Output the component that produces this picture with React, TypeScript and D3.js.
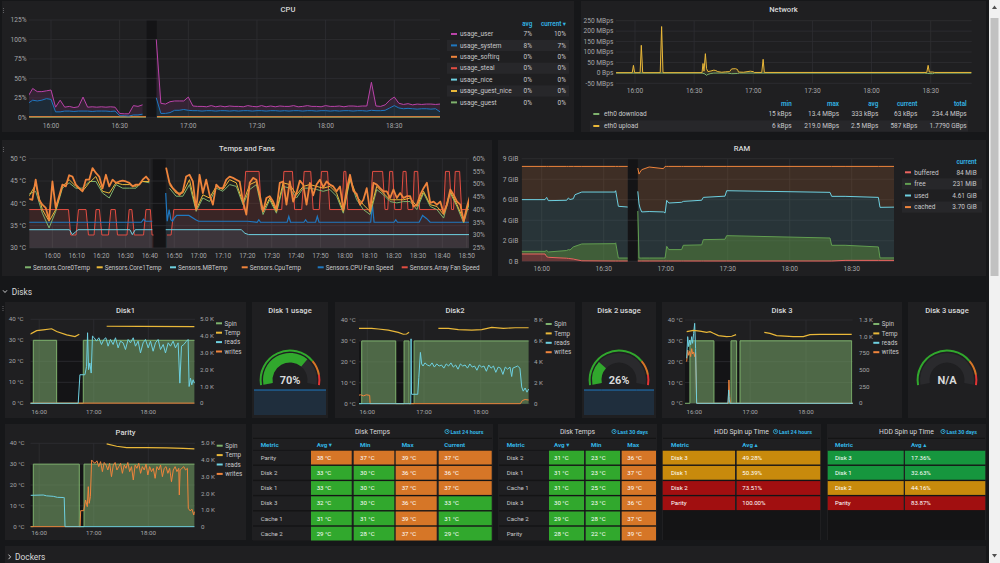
import * as d3 from "d3";

type Pt = [number, number | null];

// ---------- palette ----------
const FONT = "Roboto, 'Open Sans', 'DejaVu Sans', sans-serif";
const PAGE_BG = "#161719";
const PANEL_BG = "#1f1f21";
const NO_DATA = "#141416";
const STRIPE = "#27272a";
const GRID = "#2f2f32";
const AXIS = "#a6a6a8";
const TITLE = "#d8d9da";
const TEXT = "#c8c8ca";
const ACCENT = "#33b5e5";
const SEP = "#141415";

const GREEN = "#7eb26d";
const YELLOW = "#eab839";
const CYAN = "#6ed0e0";
const ORANGE = "#ef843c";
const RED = "#e24d42";
const BLUE = "#1f78c1";
const PURPLE = "#ba43a9";

const T_GREEN = "rgba(50, 172, 45, 0.97)";
const T_ORANGE = "rgba(237, 129, 40, 0.89)";
const T_RED = "rgba(245, 54, 54, 0.9)";
const H_GREEN = "#16963e";
const H_YELLOW = "#c88a0c";
const H_RED = "#a10f10";

// ---------- time ticks (minutes after 15:50) ----------
const halfHourTicks = [10, 40, 70, 100, 130, 160];
const tenMinuteTicks = [10, 20, 30, 40, 50, 60, 70, 80, 90, 100, 110, 120, 130, 140, 150, 160, 170, 180];
const hourTicks = [10, 70, 130];
// collector outage (minutes after 15:50) per panel
const cpuOutage = [51.8, 56.2];
const tempsOutage = [51.2, 56.5];
const ramOutage = [51.8, 56.5];

// ---------- CPU (percent, one sample every 2 min) ----------
const cpuStep = 2;
const cpuSystem = [
  18, 22, 21, 22, 24, 23, 7, 7, 8, 8,
  7.5, 8, 8, 8, 7.5, 8, 8, 8, 7.5, 8,
  2, 2, 1.5, 3, 3, 4, null, null, 25, 5,
  5, 6, 9, 9, 10, 9, 8.5, 8.5, 8, 8.5,
  8.5, 8, 8.5, 8.5, 8, 8.5, 8, 8.5, 8.5, 8,
  8.5, 8.5, 8, 8.5, 8.5, 8, 8.5, 8, 8.5, 8.5,
  8, 8.5, 8.5, 8, 8.5, 8.5, 8, 8.5, 8, 8.5,
  8.5, 8, 8.5, 8.5, 8, 9, 8.5, 8.5, 9, 12,
  15, 12, 11, 11.5, 11, 10.5, 11, 11, 10.5, 11,
  7,
];
const cpuUser = [
  9, 15, 12, 11, 10, 12, 6, 15, 5, 6,
  5, 5.5, 18, 5, 6, 5, 5.5, 5, 6, 5,
  3, 2.5, 3, 12, 11, 12, null, null, 75, 13,
  12, 14, 12, 12, 11, 17, 6, 5.5, 6, 5,
  6.5, 5.5, 6, 5, 6.5, 5.5, 6, 5, 6.5, 6,
  5, 6.5, 5.5, 6, 5, 6.5, 5.5, 6, 6.5, 5,
  6, 6.5, 5.5, 6, 5, 6.5, 6, 5.5, 6.5, 5,
  6, 6.5, 5.5, 6, 6.5, 36, 6, 5.5, 7, 10,
  11, 6, 5.5, 6, 5, 6.5, 5.5, 6, 6.5, 5.5,
  10,
];
const cpuSoftirq: Pt[] = [[0, 0.8], [51.5, 0.8], [53, null], [56.3, 0.9], [120, 0.7], [180.7, 0.8]];
const cpuSmall: Pt[] = [[0, 0.2], [51.5, 0.2], [53, null], [56.3, 0.2], [180.7, 0.2]];
const cpuLegendNames = ["usage_user", "usage_system", "usage_softirq", "usage_steal", "usage_nice", "usage_guest_nice", "usage_guest"];
const cpuLegendColors = [PURPLE, BLUE, ORANGE, RED, CYAN, YELLOW, GREEN];
const cpuLegendAvg = [7, 8, 0, 0, 0, 0, 0];
const cpuLegendCurrent = [10, 7, 0, 0, 0, 0, 0];
const cpuYTicks = [0, 25, 50, 75, 100, 125];

// ---------- Network (MBps, download drawn negative) ----------
const netUpload: Pt[] = [
  [0.4, 1], [8.6, 1], [9.2, 36], [9.8, 1], [12.6, 1], [13.2, 132], [13.9, 1], [22.8, 1], [23.5, 222], [24.2, 1],
  [44, 1], [44.5, 45], [45, 8], [45.7, 92], [46.3, 20], [47, 6], [48.5, 9], [50, 13], [51, 11], [52, 6],
  [54, 3], [56, 5], [58, 6], [59, 19], [61, 20], [62, 16], [62.5, 4], [65, 3], [68.5, 8], [70, 6],
  [70.5, 2], [74.3, 2], [75, 65], [75.6, 2], [158, 2], [158.7, 36], [159.3, 4], [161, 4], [162, 2], [180.7, 2],
];
const netDownload: Pt[] = [
  [0.4, -1], [44, -1], [45.5, -5], [46.2, -12], [47, -7], [48.5, -3], [50, -1], [57, -1], [59, -4], [62, -3],
  [63, -1], [157, -1], [158.5, -3], [161, -4], [162, -1], [180.7, -1],
];
const netYTicks = [-50, 0, 50, 100, 150, 200, 250];
const netLegendNames = ["eth0 download", "eth0 upload"];
const netLegendColors = [GREEN, YELLOW];
const netLegendHeaders = ["min", "max", "avg", "current", "total"];
const netLegendRows = [
  ["15 kBps", "13.4 MBps", "333 kBps", "63 kBps", "234.4 MBps"],
  ["6 kBps", "219.0 MBps", "2.5 MBps", "587 kBps", "1.7790 GBps"],
];

// ---------- Temps and Fans ----------
const cpuTempStart = 0.4;
const cpuTempStep = 1.372;
const cpuTemp = [
  41.0, 40.8, 45.3, 40.8, 39.7, 39.0, 36.3, 44.9, 39.0, 41.6,
  44.2, 43.8, 46.3, 46.0, 44.2, 43.4, 42.7, 45.3, 45.3, 47.9,
  46.8, 46.0, 43.4, 46.4, 43.8, 45.3, 44.6, 44.9, 45.1, 44.9,
  44.6, 43.8, 44.2, 44.2, 45.3, 46.0, 45.1, null, null, null,
  null, 48.0, 44.6, 43.4, 42.7, 41.9, 42.7, 46.0, 46.4, 44.9,
  38.6, 46.4, 42.3, 45.3, 41.9, 39.7, 44.2, 43.4, 43.4, 45.3,
  46.0, 45.7, 45.3, 44.9, 40.4, 37.5,
  44.6, 45.7, 45.3, 41.9, 38.2, 41.2, 41.6, 40.4, 38.6, 44.6,
  44.9, 39.7, 44.9, 40.4, 42.3, 45.1, 44.2, 39.7, 44.6, 41.8,
  44.2, 45.3, 43.6, 44.9, 44.2, 43.8, 42.7, 43.8, 38.6, 43.1,
  46.4, 42.8, 42.1, 39.7, 40.8, 43.4, 38.2, 44.6, 44.2, 43.4,
  42.7, 42.7, 41.2, 43.1, 41.2, 42.3, 41.2, 41.6, 41.6, 39.3,
  39.7, 41.9, 43.4, 44.6, 40.1, 40.4, 39.7, 40.4, 37.8, 39.7,
  43.1, 41.9, 40.4, 39.7, 36.0, 39.3, 41.9,
];
const coreStep = 2.744;
const core0Temp = [
  42.1, 42.7, 37.8, 34.5, 38.2, 43.4, 44.6, 43.4, 43.4, 44.9,
  44.9, 42.3, 41.2, 44.2, 43.4, 43.4, 43.4, 44.9, 44.6, null,
  null, 43.4, 41.6, 41.6, 44.2, 38.2, 41.2, 40.4, 43.4, 42.7,
  44.2, 43.8, 39.7,
  43.1, 44.2, 37.5, 40.8, 37.8, 43.8, 43.4, 41.2, 43.4, 43.4,
  43.1, 42.7, 43.1, 41.6, 37.8, 45.3, 40.8, 38.6, 37.5, 43.1,
  41.9, 40.4, 40.1, 40.4, 40.4, 38.6, 42.3, 39.3, 38.6, 36.7,
  42.3, 39.3, 35.6, 40.8,
];
const core1Temp = [
  41.6, 44.2, 38.6, 36.0, 38.6, 43.8, 45.3, 43.8, 42.7, 44.6,
  46.0, 42.7, 42.3, 44.6, 44.2, 44.2, 43.8, 44.9, 44.9, null,
  null, 44.2, 42.3, 42.3, 45.3, 38.6, 41.9, 41.2, 43.8, 43.1,
  45.3, 44.6, 40.1,
  44.2, 44.9, 38.2, 41.2, 38.2, 44.6, 44.2, 41.9, 43.8, 44.2,
  43.8, 43.4, 43.8, 42.3, 38.2, 45.7, 41.6, 39.7, 38.2, 43.8,
  42.3, 40.8, 40.8, 40.8, 41.2, 39.3, 42.7, 39.7, 39.3, 37.5,
  42.7, 39.7, 36.3, 41.2,
];
const mbTemp: Pt[] = [
  [0.4, 34.1], [17, 34.1], [18.2, 33.0], [19.5, 33.6], [20.5, 34.1], [41.8, 34.1], [42.8, 33.0], [44, 34.1],
  [51, 34.1], [53, null], [56.5, 34.1], [87.5, 34.1], [89, 33.3], [90.5, 33.0], [181.5, 33.0],
];
const cpuFan: Pt[] = [
  [0.4, 35], [46.5, 35], [47.4, 36.2], [48.2, 35.4], [51, 35.4], [53, null], [56.5, 46.5], [57.1, 35.4],
  [57.9, 40], [58.6, 36], [59.3, 35.4], [60, 36.6], [61, 37.7], [66, 37.7], [68.8, 36], [70, 35.4],
  [90, 35.4], [94, 35], [94.7, 36], [95.4, 35], [106.3, 35], [107, 37.3], [107.7, 35], [113.2, 35],
  [113.9, 36], [114.6, 35], [118, 35], [118.7, 37.3], [119.4, 35], [140.6, 35], [141.3, 42], [142, 35],
  [150.2, 35], [150.9, 36], [151.6, 35], [160.5, 35], [161.9, 37.7], [163.5, 36.5], [165, 35], [181.5, 35],
];
const arrayFan: Pt[] = [
  [0.4, 40], [16.6, 40], [17.5, 30], [19.7, 30], [20.7, 40], [23.8, 40], [24.8, 30], [27.1, 30], [27.9, 40],
  [29.3, 40], [30.3, 30], [33.0, 30], [34.0, 40], [35.8, 40], [36.7, 30], [40.6, 30], [41.5, 40], [42.6, 40],
  [43.6, 30], [47.4, 30], [48.4, 40], [50.2, 40], [50.9, 30], [51.5, 30], [53, null], [57.0, 30], [58.7, 30],
  [59.8, 40], [88.3, 40], [89.3, 55], [94.8, 55], [95.7, 40], [104.1, 40], [105.0, 55], [108.5, 55],
  [109.4, 40], [112.3, 40], [113.3, 55], [116.0, 55], [117.0, 40], [119.5, 40], [120.4, 55], [122.9, 55],
  [123.8, 40], [128.8, 40], [129.6, 55], [130.4, 55], [131.2, 40], [140.4, 40], [141.4, 55], [145.5, 55],
  [146.5, 40], [147.6, 40], [148.4, 55], [149.6, 55], [150.5, 40], [153.1, 40], [153.9, 55], [155.1, 55],
  [155.9, 40], [157.9, 40], [158.5, 55], [159.9, 55], [160.7, 40], [170.6, 40], [171.3, 55], [172.9, 55],
  [173.8, 40], [174.6, 40], [175.3, 55], [177.1, 55], [177.9, 40], [181.5, 40],
];
const tempYTicks = [30, 35, 40, 45, 50];
const fanYTicks = [25, 30, 35, 40, 45, 50, 55, 60];
const tempLegendNames = [
  "Sensors.Core0Temp", "Sensors.Core1Temp", "Sensors.MBTemp", "Sensors.CpuTemp", "Sensors.CPU Fan Speed", "Sensors.Array Fan Speed",
];
const tempLegendColors = [GREEN, YELLOW, CYAN, ORANGE, BLUE, RED];

// ---------- RAM (GB = 1e9 bytes, stacked) ----------
const ramTimes = [
  0.3, 11.6, 12.4, 13.2, 22.1, 22.9, 23.7, 25.3, 26.1, 29.4, 45.5, 45.8, 47.1, 51.6, 54, 56.5, 57.1, 57.6,
  58.4, 62, 68.9, 69.7, 70.5, 71.5, 77.7, 78.5, 87.4, 88.2, 98.7, 99.5, 149.5, 150.3, 156.8, 172.9, 173.7, 180.7,
];
const ramBuffered = [
  0.71, 0.71, 0.45, 0.39, 0.30, 0.28, 0.26, 0.22, 0.18, 0.05, 0.03, 0.03, 0.03, 0.03, null, 0.03, 0.03, 0.03,
  0.03, 0.03, 0.03, 0.03, 0.03, 0.03, 0.03, 0.03, 0.03, 0.03, 0.03, 0.03, 0.03, 0.03, 0.09, 0.09, 0.09, 0.09,
];
const ramFree = [
  0.26, 0.26, 0.60, 0.52, 0.75, 0.86, 0.84, 1.18, 1.28, 1.64, 1.69, 1.77, 0.29, 0.29, null, 4.87, 0.29, 0.29,
  0.29, 0.29, 0.29, 0.29, 1.43, 1.11, 1.11, 1.53, 1.57, 2.08, 2.12, 2.47, 2.24, 1.53, 1.47, 1.31, 0.24, 0.24,
];
const ramUsed = [
  5.04, 5.04, 5.18, 5.00, 4.90, 5.03, 4.92, 4.70, 5.03, 5.06, 5.03, 5.08, 5.04, 4.97, null, 1.92, 5.28, 4.87,
  4.49, 4.53, 4.49, 4.39, 4.48, 4.54, 4.61, 4.28, 4.35, 4.12, 4.20, 4.38, 4.45, 4.77, 4.77, 4.83, 4.93, 4.95,
];
const ramCached = [
  3.24, 3.24, 3.02, 3.34, 3.30, 3.08, 3.23, 3.15, 2.76, 2.50, 2.50, 2.37, 3.89, 3.96, null, 2.27, 2.90, 3.51,
  4.12, 4.34, 4.22, 4.54, 3.31, 3.57, 3.50, 3.41, 3.30, 3.02, 2.90, 2.37, 2.53, 2.92, 2.92, 3.02, 3.99, 3.97,
];
const ramYTicksGB = [0, 2, 4, 6, 8, 10];
const ramLegendNames = ["buffered", "free", "used", "cached"];
const ramLegendColors = ["#ea6460", "#629e51", CYAN, ORANGE];
const ramLegendCurrent = ["84 MiB", "231 MiB", "4.61 GiB", "3.70 GiB"];

// ---------- Disks (temp in °C, reads/writes in K or raw ops) ----------
const diskTempTicks = [0, 10, 20, 30, 40];
const diskLegendNames = ["Spin", "Temp", "reads", "writes"];
const diskLegendColors = [GREEN, YELLOW, CYAN, ORANGE];

const disk1Spin: Pt[] = [[0, 0], [3.5, 30], [29.2, 0], [58.5, 30], [180.7, 30]];
const disk1Temp: Pt[] = [
  [0, 32.9], [7.2, 34.6], [14.5, 35.0], [23.7, 35.5], [29.2, 34.2], [40.2, 32.6], [49.4, 31.8], [54.1, 32.9],
  [60, null], [84.2, 36.7], [120, 36.6], [180.7, 36.5],
];
const disk1Reads: Pt[] = [
  [0, 0], [52.9, 0], [54.8, 1.7], [60.3, 1.7], [62.1, 2.2], [63.2, 4.2], [64.3, 2.0], [65.7, 2.4], [67.2, 1.8],
  [68.6, 4.0], [70.5, 3.9], [73, 3.7], [75.6, 3.9], [78.5, 3.5], [81.1, 3.8], [83.3, 3.9], [85.8, 3.4],
  [88.4, 3.8], [91.3, 3.5], [93.9, 3.9], [96.8, 3.3], [99.4, 3.7], [102.3, 3.6], [104.9, 3.2], [107.8, 3.8],
  [110.4, 3.6], [113.4, 3.9], [115.9, 3.4], [118.8, 3.7], [121.4, 3.0], [124.3, 3.6], [126.9, 3.8], [129.9, 3.3],
  [132.4, 3.7], [135.3, 3.1], [137.9, 3.6], [140.8, 3.8], [143.4, 3.2], [146.4, 3.5], [148.9, 3.0], [151.9, 3.6],
  [154.4, 3.4], [157.3, 3.7], [159.9, 3.3], [162.8, 3.6], [164.7, 1.2], [166.5, 3.4], [169.1, 3.5], [172, 3.7],
  [173.8, 3.8], [174.9, 1.0], [176.4, 1.5], [177.8, 1.1], [179.3, 1.4], [180.7, 1.2],
];
const disk1Writes: Pt[] = [[0, 0.01], [180.7, 0.01]];

const disk2Spin: Pt[] = [[0, 0], [4.1, 30], [40.1, 0], [48.9, 30], [54.2, 0], [59.5, 30], [180.7, 30]];
const disk2Temp: Pt[] = [
  [0.5, 36.0], [14.6, 36.0], [21.7, 35.7], [32.2, 35.2], [42.8, 34.1], [48.1, 33.2], [51.6, 33.3], [54.2, 34.1],
  [60, null], [85.2, 36.0], [95.8, 36.0], [106.4, 35.4], [120.5, 35.2], [131.1, 35.4], [141.7, 36.5], [154, 36.0],
  [166.4, 36.3], [180.7, 36.3],
];
const disk2Reads: Pt[] = [
  [0.5, 0], [56, 0], [56.3, 6.2], [56.8, 0.9], [63.4, 0.9], [64.5, 2.5], [66.2, 4.9], [67.5, 3.8], [69, 3.6],
  [71, 3.9], [73.5, 3.7], [76, 3.6], [78.5, 3.9], [81, 3.5], [83.5, 3.8], [86, 3.6], [88.5, 3.7], [91, 3.4],
  [93.5, 3.8], [96, 3.6], [98.5, 3.9], [101, 3.5], [103.5, 3.7], [106, 3.3], [108.5, 3.8], [111, 3.6],
  [113.5, 3.7], [116, 3.4], [118.5, 3.8], [121, 3.5], [123.5, 3.6], [126, 3.2], [128.5, 3.7], [131, 3.5],
  [133.5, 3.6], [136, 3.1], [138.5, 3.7], [141, 3.4], [143.5, 3.6], [146, 3.0], [148.5, 3.5], [151, 3.4],
  [153.5, 2.8], [156, 3.5], [158.5, 3.3], [161, 3.5], [162.8, 2.6], [164, 3.4], [166.5, 3.5], [169, 3.6],
  [171.5, 3.4], [173.4, 1.6], [175, 1.2], [177, 1.5], [179, 1.1], [180.7, 1.4],
];
const disk2Writes: Pt[] = [
  [0.5, 0.8], [3, 0.85], [6, 0.75], [9, 0.85], [12.5, 0.8], [13, 0], [172, 0], [174, 0.3], [177, 0.4], [180.7, 0.35],
];

const disk3Spin: Pt[] = [[0, 0], [5.3, 30], [31.1, 0], [49.4, 30], [55.5, 0], [59.1, 30], [179.1, 0], [180.7, 0]];
const disk3Temp: Pt[] = [
  [1.8, 34.4], [9, 35.0], [16.1, 34.7], [23.3, 34.1], [26.9, 34.4], [30.5, 33.6], [35.9, 32.5], [44.8, 32.0],
  [50.2, 32.2], [54.9, 33.0], [60, null], [85.2, 34.1], [91.3, 33.6], [98.4, 32.5], [116.3, 32.0], [127.1, 32.0],
  [134.2, 33.0], [145, 33.1], [179.1, 33.1],
];
const disk3Reads: Pt[] = [
  [1.8, 675], [2.9, 1000], [4, 850], [5, 950], [6.1, 880], [7.2, 1000], [8.2, 900], [9.3, 1050], [10.4, 1200],
  [11.4, 820], [12.5, 0], [46.1, 0], [46.9, 200], [47.6, 50], [48.3, 0], [180.7, 0],
];
const disk3Writes: Pt[] = [
  [1.8, 625], [2.9, 800], [4, 720], [5, 780], [6.1, 700], [7.2, 820], [8.2, 740], [9.3, 770], [10.4, 700],
  [11.4, 760], [12.5, 0], [46.5, 0], [47.2, 350], [48, 100], [48.7, 0], [180.7, 0],
];

const paritySpin: Pt[] = [[0, 0], [3.5, 30], [54.1, 0], [59.3, 30], [180.7, 30]];
const parityTemp: Pt[] = [
  [84.2, 39.7], [95.2, 38.6], [106.2, 37.9], [128.2, 37.9], [150.2, 37.8], [168.5, 37.6], [180.7, 37.3],
];
const parityReads: Pt[] = [
  [0.4, 1.88], [14.5, 1.9], [18, 1.85], [25.5, 1.82], [30, 1.76], [36.5, 1.75], [37.5, 1.75], [38.4, 0], [180.7, 0],
];
const parityWrites: Pt[] = [
  [0.4, 0], [55, 0], [55.6, 0.96], [59, 0.96], [61, 1.6], [62.9, 1.2], [64, 2.4], [65, 1.4], [66.3, 1.8],
  [67.7, 4.0], [69, 3.9], [71.4, 3.8], [73.5, 3.95], [75.5, 3.6], [77.5, 3.9], [79.5, 3.3], [81.5, 3.85],
  [83.5, 3.7], [85.5, 3.4], [87.5, 3.8], [89.5, 3.0], [91.5, 3.7], [93.5, 3.85], [95.5, 3.4], [97.5, 3.6],
  [99.5, 3.8], [101.5, 3.2], [103.5, 3.7], [105.5, 3.5], [107.5, 3.85], [109.5, 3.3], [111.5, 3.6], [113.5, 2.8],
  [115.5, 3.7], [117.5, 3.5], [119.5, 3.8], [121.5, 3.2], [123.5, 3.6], [125.5, 3.4], [127.5, 3.75], [129.5, 3.1],
  [131.5, 3.6], [133.5, 3.3], [135.5, 3.5], [137.5, 2.9], [139.5, 3.6], [141.5, 3.4], [143.5, 3.7], [145.5, 3.0],
  [147.5, 3.5], [149.5, 3.6], [151.5, 3.2], [153.5, 3.5], [155.5, 2.7], [157.5, 3.4], [159.5, 3.6], [161.5, 3.3],
  [163.5, 3.5], [164.1, 1.9], [165, 3.4], [167, 3.5], [169, 3.6], [171, 3.4], [173, 3.5], [174, 1.1], [176, 0.95],
  [178, 1.05], [180, 0.7], [180.7, 0.9],
];

// ---------- disk usage gauges ----------
const gaugeThresholds = [75, 90];
const disk1Usage = 70;
const disk2Usage = 26;
const disk3Usage: number | null = null;
const disk1UsageHistory = [70, 70, 70, 70, 70];
const disk2UsageHistory = [26, 26, 26, 26, 26];

// ---------- tables ----------
const tempTableThreshold = 35;
const temps24Metrics = ["Parity", "Disk 2", "Disk 1", "Disk 3", "Cache 1", "Cache 2"];
const temps24Avg = [38, 33, 33, 32, 31, 29];
const temps24Min = [37, 30, 30, 30, 31, 28];
const temps24Max = [39, 36, 37, 36, 39, 37];
const temps24Current = [37, 36, 37, 33, 31, 29];

const temps30Metrics = ["Disk 2", "Disk 1", "Cache 1", "Disk 3", "Cache 2", "Parity"];
const temps30Avg = [31, 31, 31, 30, 29, 28];
const temps30Min = [23, 23, 25, 23, 28, 22];
const temps30Max = [36, 37, 39, 36, 37, 39];

const spinThresholds = [40, 70];
const spin24Metrics = ["Disk 3", "Disk 1", "Disk 2", "Parity"];
const spin24Avg = [49.28, 50.39, 73.51, 100.0];
const spin30Metrics = ["Disk 3", "Disk 1", "Disk 2", "Parity"];
const spin30Avg = [17.36, 32.63, 44.16, 83.87];

// ---------- helpers ----------
const clock = (m: number) => {
  const total = Math.round(15 * 60 + 50 + m);
  const mm = total % 60;
  return `${Math.floor(total / 60)}:${mm < 10 ? "0" : ""}${mm}`;
};
const sampled = (start: number, step: number, vals: (number | null)[]): Pt[] =>
  vals.map((v, i) => [start + i * step, v] as Pt);

const linePath = (pts: Pt[], x: any, y: any, curve: any = d3.curveLinear) =>
  d3
    .line<Pt>()
    .defined((d) => d[1] != null)
    .x((d) => x(d[0]))
    .y((d) => y(d[1] as number))
    .curve(curve)(pts) || "";

const areaPath = (pts: Pt[], x: any, y: any, base: number, curve: any = d3.curveLinear) =>
  d3
    .area<Pt>()
    .defined((d) => d[1] != null)
    .x((d) => x(d[0]))
    .y0(y(base))
    .y1((d) => y(d[1] as number))
    .curve(curve)(pts) || "";

// cumulative layers; null breaks every layer at that sample
function stackUp(layers: (number | null)[][]) {
  const n = layers[0].length;
  const base = new Array(n).fill(0);
  return layers.map((layer) =>
    layer.map((v, i) => {
      if (v == null) return [NaN, NaN] as [number, number];
      const y0 = base[i];
      base[i] = y0 + v;
      return [y0, base[i]] as [number, number];
    })
  );
}

const bandArea = (times: number[], band: [number, number][], x: any, y: any) =>
  d3
    .area<number>()
    .defined((_, i) => !isNaN(band[i][1]))
    .x((t) => x(t))
    .y0((_, i) => y(band[i][0]))
    .y1((_, i) => y(band[i][1]))(times) || "";

const bandLine = (times: number[], band: [number, number][], x: any, y: any) =>
  d3
    .line<number>()
    .defined((_, i) => !isNaN(band[i][1]))
    .x((t) => x(t))
    .y((_, i) => y(band[i][1]))(times) || "";

function PanelBox({ x, y, w, h, title }: { x: number; y: number; w: number; h: number; title?: string }) {
  return (
    <g>
      <rect x={x} y={y} width={w} height={h} fill={PANEL_BG} />
      {title && (
        <text x={x + w / 2} y={y + 8.6} dy="0.35em" textAnchor="middle" fill={TITLE} fontSize={7.6} fontWeight={500}>
          {title}
        </text>
      )}
    </g>
  );
}

function DragHandle({ x, y }: { x: number; y: number }) {
  return (
    <g fill="#6b6b6e">
      {[0, 2, 4].map((d) => (
        <circle key={d} cx={x} cy={y + d} r={0.6} />
      ))}
    </g>
  );
}

function Grid(p: {
  x: any;
  yl: any;
  yTicks: number[];
  yFmt: (v: number) => string;
  yr?: any;
  yrTicks?: number[];
  yrFmt?: (v: number) => string;
  xTicks: number[];
  box: [number, number, number, number];
  leftX: number;
  rightX?: number;
  labelY: number;
  fs?: number;
}) {
  const fs = p.fs ?? 6.6;
  return (
    <g>
      {p.yTicks.map((v) => (
        <g key={"y" + v}>
          <line x1={p.box[0]} x2={p.box[1]} y1={p.yl(v)} y2={p.yl(v)} stroke={GRID} strokeWidth={0.8} />
          <text x={p.leftX} y={p.yl(v)} dy="0.35em" textAnchor="end" fill={AXIS} fontSize={fs}>
            {p.yFmt(v)}
          </text>
        </g>
      ))}
      {p.yr &&
        (p.yrTicks || []).map((v) => (
          <text key={"r" + v} x={p.rightX} y={p.yr(v)} dy="0.35em" fill={AXIS} fontSize={fs}>
            {p.yrFmt ? p.yrFmt(v) : v}
          </text>
        ))}
      {p.xTicks.map((t) => (
        <g key={"x" + t}>
          <line x1={p.x(t)} x2={p.x(t)} y1={p.box[2]} y2={p.box[3]} stroke={GRID} strokeWidth={0.8} />
          <text x={p.x(t)} y={p.labelY} dy="0.35em" textAnchor="middle" fill={AXIS} fontSize={fs}>
            {clock(t)}
          </text>
        </g>
      ))}
    </g>
  );
}

function ClipBox({ id, box }: { id: string; box: [number, number, number, number] }) {
  return (
    <clipPath id={id}>
      <rect x={box[0]} y={box[2] - 1} width={box[1] - box[0]} height={box[3] - box[2] + 2} />
    </clipPath>
  );
}

function Outage({ x, win, box }: { x: any; win: number[]; box: [number, number, number, number] }) {
  return <rect x={x(win[0])} y={box[2]} width={x(win[1]) - x(win[0])} height={box[3] - box[2]} fill={NO_DATA} />;
}

// ---------- panels ----------
function CpuPanel() {
  const x = d3.scaleLinear().domain([10, 160]).range([51, 394.3]);
  const y = d3.scaleLinear().domain([0, 125]).range([117.3, 20]);
  const box: [number, number, number, number] = [29, 440, 20, 117.3];
  const times = cpuSystem.map((_, i) => i * cpuStep);
  const [sysBand, userBand] = stackUp([cpuSystem, cpuUser]);
  const rowY = (i: number) => 34 + i * 11.4;
  return (
    <g>
      <PanelBox x={2} y={1} w={572} h={131} title="CPU" />
      <DragHandle x={3.5} y={8.5} />
      <ClipBox id="clip-cpu" box={box} />
      <Outage x={x} win={cpuOutage} box={box} />
      <Grid x={x} yl={y} yTicks={cpuYTicks} yFmt={(v) => `${v}%`} xTicks={halfHourTicks} box={box} leftX={26.5} labelY={125.7} />
      <g clipPath="url(#clip-cpu)">
        <path d={bandArea(times, sysBand, x, y)} fill={BLUE} fillOpacity={0.14} />
        <path d={bandArea(times, userBand, x, y)} fill={PURPLE} fillOpacity={0.14} />
        <path d={linePath(cpuSmall, x, y)} fill="none" stroke={GREEN} strokeWidth={1} />
        <path d={linePath(cpuSoftirq, x, y)} fill="none" stroke={ORANGE} strokeWidth={1} />
        <path d={bandLine(times, sysBand, x, y)} fill="none" stroke={BLUE} strokeWidth={1} />
        <path d={bandLine(times, userBand, x, y)} fill="none" stroke={PURPLE} strokeWidth={1} />
      </g>
      <text x={532.3} y={24} dy="0.35em" textAnchor="end" fill={ACCENT} fontSize={6.3} fontWeight={600}>avg</text>
      <text x={566} y={24} dy="0.35em" textAnchor="end" fill={ACCENT} fontSize={6.3} fontWeight={600}>current ▾</text>
      {cpuLegendNames.map((n, i) => (
        <g key={n}>
          {i % 2 === 1 && <rect x={447} y={rowY(i) - 5.6} width={122} height={11.2} fill={STRIPE} />}
          <rect x={451} y={rowY(i) - 1} width={6} height={2} fill={cpuLegendColors[i]} />
          <text x={460} y={rowY(i)} dy="0.35em" fill={TEXT} fontSize={6.5}>{n}</text>
          <text x={532} y={rowY(i)} dy="0.35em" textAnchor="end" fill={TEXT} fontSize={6.5}>{cpuLegendAvg[i]}%</text>
          <text x={566} y={rowY(i)} dy="0.35em" textAnchor="end" fill={TEXT} fontSize={6.5}>{cpuLegendCurrent[i]}%</text>
        </g>
      ))}
    </g>
  );
}

function NetworkPanel() {
  const x = d3.scaleLinear().domain([10, 160]).range([635, 930.7]);
  const y = d3.scaleLinear().domain([-50, 250]).range([83.3, 20.7]);
  const box: [number, number, number, number] = [616, 971.7, 20.7, 83.3];
  const colX = [791.7, 839, 878.3, 917.3, 966.7];
  const rowY = [114, 126];
  return (
    <g>
      <PanelBox x={581} y={1} w={405} h={131} title="Network" />
      <ClipBox id="clip-net" box={box} />
      <Grid x={x} yl={y} yTicks={netYTicks} yFmt={(v) => (v === 0 ? "0 Bps" : `${v} MBps`)} xTicks={halfHourTicks} box={box} leftX={613.3} labelY={90.7} />
      <g clipPath="url(#clip-net)">
        <path d={areaPath(netDownload, x, y, 0)} fill={GREEN} fillOpacity={0.12} />
        <path d={areaPath(netUpload, x, y, 0)} fill={YELLOW} fillOpacity={0.12} />
        <path d={linePath(netDownload, x, y)} fill="none" stroke={GREEN} strokeWidth={1} />
        <path d={linePath(netUpload, x, y)} fill="none" stroke={YELLOW} strokeWidth={1} />
      </g>
      {netLegendHeaders.map((h, j) => (
        <text key={h} x={colX[j]} y={103.3} dy="0.35em" textAnchor="end" fill={ACCENT} fontSize={6.3} fontWeight={600}>{h}</text>
      ))}
      {netLegendNames.map((n, i) => (
        <g key={n}>
          {i % 2 === 1 && <rect x={590} y={rowY[i] - 5.6} width={378} height={11.2} fill={STRIPE} />}
          <rect x={593.3} y={rowY[i] - 1} width={6} height={2} fill={netLegendColors[i]} />
          <text x={604} y={rowY[i]} dy="0.35em" fill={TEXT} fontSize={6.5}>{n}</text>
          {netLegendRows[i].map((v, j) => (
            <text key={j} x={colX[j]} y={rowY[i]} dy="0.35em" textAnchor="end" fill={TEXT} fontSize={6.5}>{v}</text>
          ))}
        </g>
      ))}
    </g>
  );
}

function TempsPanel() {
  const x = d3.scaleLinear().domain([10, 180]).range([52.4, 466.7]);
  const yl = d3.scaleLinear().domain([30, 50]).range([248, 158.7]);
  const yr = d3.scaleLinear().domain([25, 60]).range([247.7, 158.7]);
  const box: [number, number, number, number] = [29.3, 469, 158.7, 248];
  const cpuPts = sampled(cpuTempStart, cpuTempStep, cpuTemp);
  const core0Pts = sampled(cpuTempStart, coreStep, core0Temp);
  const core1Pts = sampled(cpuTempStart, coreStep, core1Temp);
  const legendSwatch = [25, 96.7, 170, 241.7, 317.7, 401.7];
  return (
    <g>
      <PanelBox x={2} y={140} w={490} h={136} title="Temps and Fans" />
      <DragHandle x={3.5} y={147.5} />
      <ClipBox id="clip-temps" box={box} />
      <Outage x={x} win={tempsOutage} box={box} />
      <Grid
        x={x}
        yl={yl}
        yTicks={tempYTicks}
        yFmt={(v) => `${v} °C`}
        yr={yr}
        yrTicks={fanYTicks}
        yrFmt={(v) => `${v}%`}
        xTicks={tenMinuteTicks}
        box={box}
        leftX={26}
        rightX={472.7}
        labelY={255.3}
      />
      <g clipPath="url(#clip-temps)">
        <path d={areaPath(arrayFan, x, yr, 25)} fill={RED} fillOpacity={0.14} />
        <path d={areaPath(cpuFan, x, yr, 25)} fill={BLUE} fillOpacity={0.06} />
        <path d={areaPath(mbTemp, x, yl, 30)} fill={CYAN} fillOpacity={0.08} />
        <path d={linePath(arrayFan, x, yr)} fill="none" stroke={RED} strokeWidth={1} />
        <path d={linePath(mbTemp, x, yl)} fill="none" stroke={CYAN} strokeWidth={1} />
        <path d={linePath(cpuFan, x, yr)} fill="none" stroke={BLUE} strokeWidth={1.2} />
        <path d={linePath(core0Pts, x, yl)} fill="none" stroke={GREEN} strokeWidth={1} />
        <path d={linePath(core1Pts, x, yl)} fill="none" stroke={YELLOW} strokeWidth={1} />
        <path d={linePath(cpuPts, x, yl)} fill="none" stroke={ORANGE} strokeWidth={1.8} strokeLinejoin="round" />
      </g>
      {tempLegendNames.map((n, i) => (
        <g key={n}>
          <rect x={legendSwatch[i]} y={266.3} width={6} height={2} fill={tempLegendColors[i]} />
          <text x={legendSwatch[i] + 8} y={267.3} dy="0.35em" fill={TEXT} fontSize={6.3}>{n}</text>
        </g>
      ))}
    </g>
  );
}

function RamPanel() {
  const x = d3.scaleLinear().domain([10, 160]).range([541.7, 851.7]);
  const y = d3.scaleLinear().domain([0, 10]).range([261.3, 158.7]);
  const box: [number, number, number, number] = [521.7, 894, 158.7, 261.3];
  const bands = stackUp([ramBuffered, ramFree, ramUsed, ramCached]);
  const fills = [0.35, 0.5, 0.12, 0.15];
  const gib = (gb: number) => (gb === 0 ? "0 B" : `${Math.round((gb * 1e9) / 1073741824)} GiB`);
  const rowY = (i: number) => 172.3 + i * 11.6;
  return (
    <g>
      <PanelBox x={498} y={140} w={488} h={136} title="RAM" />
      <ClipBox id="clip-ram" box={box} />
      <Outage x={x} win={ramOutage} box={box} />
      <Grid x={x} yl={y} yTicks={ramYTicksGB} yFmt={gib} xTicks={halfHourTicks} box={box} leftX={518.3} labelY={268.7} />
      <g clipPath="url(#clip-ram)">
        {bands.map((b, i) => (
          <path key={"a" + i} d={bandArea(ramTimes, b, x, y)} fill={ramLegendColors[i]} fillOpacity={fills[i]} />
        ))}
        {bands.map((b, i) => (
          <path key={"l" + i} d={bandLine(ramTimes, b, x, y)} fill="none" stroke={ramLegendColors[i]} strokeWidth={1} />
        ))}
      </g>
      <text x={976.7} y={162} dy="0.35em" textAnchor="end" fill={ACCENT} fontSize={6.3} fontWeight={600}>current</text>
      {ramLegendNames.map((n, i) => (
        <g key={n}>
          {i % 2 === 1 && <rect x={902} y={rowY(i) - 5.6} width={80} height={11.2} fill={STRIPE} />}
          <rect x={905} y={rowY(i) - 1} width={6} height={2} fill={ramLegendColors[i]} />
          <text x={914.3} y={rowY(i)} dy="0.35em" fill={TEXT} fontSize={6.5}>{n}</text>
          <text x={976.7} y={rowY(i)} dy="0.35em" textAnchor="end" fill={TEXT} fontSize={6.5}>{ramLegendCurrent[i]}</text>
        </g>
      ))}
    </g>
  );
}

function DiskPanel(p: {
  id: string;
  px: number;
  py: number;
  pw: number;
  title: string;
  xr: [number, number];
  box: [number, number, number, number];
  leftX: number;
  rightX: number;
  labelY: number;
  legendX: number;
  legendY: number;
  rightMax: number;
  rightTicks: number[];
  rightFmt: (v: number) => string;
  spin: Pt[];
  temp: Pt[];
  reads: Pt[];
  writes: Pt[];
}) {
  const x = d3.scaleLinear().domain([10, 130]).range(p.xr);
  const yl = d3.scaleLinear().domain([0, 40]).range([p.box[3], p.box[2]]);
  const yr = d3.scaleLinear().domain([0, p.rightMax]).range([p.box[3], p.box[2]]);
  // spun-down stretches are shaded dark up to the spin level
  const spinLevel = d3.max(p.spin, (d) => d[1] as number) as number;
  const idle: Pt[] = p.spin.map((d) => [d[0], d[1] === 0 ? spinLevel : 0]);
  return (
    <g>
      <PanelBox x={p.px} y={p.py} w={p.pw} h={116} title={p.title} />
      <ClipBox id={p.id} box={p.box} />
      <g clipPath={`url(#${p.id})`}>
        <path d={areaPath(idle, x, yl, 0, d3.curveStepAfter)} fill={NO_DATA} />
      </g>
      <Grid
        x={x}
        yl={yl}
        yTicks={diskTempTicks}
        yFmt={(v) => `${v} °C`}
        yr={yr}
        yrTicks={p.rightTicks}
        yrFmt={p.rightFmt}
        xTicks={hourTicks}
        box={p.box}
        leftX={p.leftX}
        rightX={p.rightX}
        labelY={p.labelY}
        fs={6.2}
      />
      <g clipPath={`url(#${p.id})`}>
        <path d={areaPath(p.spin, x, yl, 0, d3.curveStepAfter)} fill={GREEN} fillOpacity={0.5} />
        <path d={linePath(p.spin, x, yl, d3.curveStepAfter)} fill="none" stroke={GREEN} strokeWidth={1} />
        <path d={linePath(p.writes, x, yr)} fill="none" stroke={ORANGE} strokeWidth={1} />
        <path d={linePath(p.reads, x, yr)} fill="none" stroke={CYAN} strokeWidth={1} />
        <path d={linePath(p.temp, x, yl)} fill="none" stroke={YELLOW} strokeWidth={1.2} />
      </g>
      {diskLegendNames.map((n, i) => (
        <g key={n}>
          <rect x={p.legendX} y={p.legendY + i * 9.4 - 1} width={6} height={2} fill={diskLegendColors[i]} />
          <text x={p.legendX + 8.5} y={p.legendY + i * 9.4} dy="0.35em" fill={TEXT} fontSize={6.3}>{n}</text>
        </g>
      ))}
    </g>
  );
}

function Gauge({ cx, cy, value }: { cx: number; cy: number; value: number | null }) {
  const a0 = (-100 * Math.PI) / 180;
  const a1 = (100 * Math.PI) / 180;
  const ang = d3.scaleLinear().domain([0, 100]).range([a0, a1]);
  const arc = d3.arc<any>();
  const band = (r0: number, r1: number, s: number, e: number) =>
    arc({ innerRadius: r0, outerRadius: r1, startAngle: s, endAngle: e }) || "";
  const stops = [0, ...gaugeThresholds, 100];
  const ringColors = [T_GREEN, T_ORANGE, T_RED];
  return (
    <g transform={`translate(${cx},${cy})`}>
      <path d={band(17.5, 27, a0, a1)} fill="#2a2a2d" />
      {value != null && <path d={band(17.5, 27, a0, ang(value))} fill={T_GREEN} />}
      {ringColors.map((c, i) => (
        <path key={i} d={band(28.4, 30.4, ang(stops[i]), ang(stops[i + 1]))} fill={c} />
      ))}
      <text y={0} dy="0.36em" textAnchor="middle" fill={TITLE} fontSize={11} fontWeight={700}>
        {value != null ? `${value}%` : "N/A"}
      </text>
    </g>
  );
}

function Sparkline({ x0, x1, y0, y1, hist }: { x0: number; x1: number; y0: number; y1: number; hist: number[] }) {
  const x = d3.scaleLinear().domain([0, hist.length - 1]).range([x0, x1]);
  const y = d3.scaleLinear().domain([0, d3.max(hist) as number]).range([y1, y0]);
  const pts: Pt[] = hist.map((v, i) => [i, v]);
  return (
    <g>
      <path d={areaPath(pts, x, y, 0)} fill="rgba(31, 118, 189, 0.18)" />
      <path d={linePath(pts, x, y)} fill="none" stroke="rgb(31, 120, 193)" strokeWidth={1} />
    </g>
  );
}

function GaugePanel(p: { px: number; pw: number; title: string; value: number | null; hist?: number[] }) {
  const cx = p.px + p.pw / 2;
  return (
    <g>
      <PanelBox x={p.px} y={302} w={p.pw} h={116} title={p.title} />
      <Gauge cx={cx} cy={380} value={p.value} />
      {p.hist && <Sparkline x0={p.px + 2} x1={p.px + p.pw - 2} y0={390} y1={415} hist={p.hist} />}
    </g>
  );
}

function ClockIcon({ x, y }: { x: number; y: number }) {
  return (
    <g stroke={ACCENT} strokeWidth={0.8} fill="none">
      <circle cx={x} cy={y} r={2.1} />
      <path d={`M${x},${y - 1.2} V${y} H${x + 1}`} />
    </g>
  );
}

type Col = { x0: number; x1: number; tx: number; head: string };

function TablePanel(p: {
  px: number;
  pw: number;
  title: string;
  range: string;
  rangeX: number;
  cols: Col[];
  cells: { text: string; fill: string | null }[][];
}) {
  const rowTop = (i: number) => 450.7 + i * 15.2;
  const left = p.px + 1;
  const right = p.px + p.pw - 1;
  return (
    <g>
      <PanelBox x={p.px} y={424} w={p.pw} h={116} />
      <text x={p.px + p.pw / 2} y={431.7} dy="0.35em" textAnchor="middle" fill={TITLE} fontSize={6.8}>{p.title}</text>
      <ClockIcon x={p.rangeX} y={431.5} />
      <text x={p.rangeX + 3.4} y={431.7} dy="0.35em" fill={ACCENT} fontSize={5.4} fontWeight={700}>{p.range}</text>
      <line x1={left} x2={right} y1={438.3} y2={438.3} stroke={SEP} strokeWidth={1.2} />
      {p.cols.map((c) => (
        <text key={c.head} x={c.tx} y={445} dy="0.35em" fill={ACCENT} fontSize={6.2} fontWeight={700}>{c.head}</text>
      ))}
      <rect x={left} y={449.9} width={right - left} height={540 - 449.9} fill={SEP} />
      {p.cells.map((row, i) => (
        <g key={i}>
          <rect x={left} y={rowTop(i)} width={right - left} height={13.8} fill={PANEL_BG} />
          {row.map((cell, j) => {
            const c = p.cols[j];
            return (
              <g key={j}>
                {cell.fill && <rect x={c.x0} y={rowTop(i)} width={c.x1 - c.x0} height={13.8} fill={cell.fill} />}
                <text x={c.tx} y={rowTop(i) + 6.9} dy="0.35em" fill={cell.fill ? "#ffffff" : TEXT} fontSize={6.1}>
                  {cell.text}
                </text>
              </g>
            );
          })}
        </g>
      ))}
    </g>
  );
}

const tempFill = (v: number) => (v >= tempTableThreshold ? T_ORANGE : T_GREEN);
const spinFill = (v: number) => (v >= spinThresholds[1] ? H_RED : v >= spinThresholds[0] ? H_YELLOW : H_GREEN);
const degC = (v: number) => `${v} °C`;

function Scrollbar() {
  return (
    <g>
      <rect x={989} y={0} width={11} height={563} fill="#f1f1f1" />
      <rect x={990.5} y={18} width={8} height={258} fill="#c1c1c1" />
      <path d="M992,9 L994.5,5.5 L997,9 Z" fill="#505050" />
      <path d="M992,554 L994.5,557.5 L997,554 Z" fill="#505050" />
    </g>
  );
}

export default function App() {
  const temps24Cells = temps24Metrics.map((m, i) => [
    { text: m, fill: null },
    { text: degC(temps24Avg[i]), fill: tempFill(temps24Avg[i]) },
    { text: degC(temps24Min[i]), fill: tempFill(temps24Min[i]) },
    { text: degC(temps24Max[i]), fill: tempFill(temps24Max[i]) },
    { text: degC(temps24Current[i]), fill: tempFill(temps24Current[i]) },
  ]);
  const temps30Cells = temps30Metrics.map((m, i) => [
    { text: m, fill: null },
    { text: degC(temps30Avg[i]), fill: tempFill(temps30Avg[i]) },
    { text: degC(temps30Min[i]), fill: tempFill(temps30Min[i]) },
    { text: degC(temps30Max[i]), fill: tempFill(temps30Max[i]) },
  ]);
  const spin24Cells = spin24Metrics.map((m, i) => [
    { text: m, fill: spinFill(spin24Avg[i]) },
    { text: `${spin24Avg[i].toFixed(2)}%`, fill: spinFill(spin24Avg[i]) },
  ]);
  const spin30Cells = spin30Metrics.map((m, i) => [
    { text: m, fill: spinFill(spin30Avg[i]) },
    { text: `${spin30Avg[i].toFixed(2)}%`, fill: spinFill(spin30Avg[i]) },
  ]);
  const kFmt1 = (v: number) => (v === 0 ? "0" : `${v.toFixed(1)} K`);
  const kFmt0 = (v: number) => (v === 0 ? "0" : `${v} K`);
  const opsFmt = (v: number) => (v === 0 ? "0" : v >= 1000 ? `${(v / 1000).toFixed(1)} K` : `${v}`);

  return (
    <svg
      width={1000}
      height={563}
      style={{ position: "fixed", left: 0, top: 0, fontFamily: FONT, display: "block" }}
    >
      <rect width={1000} height={563} fill={PAGE_BG} />
      <CpuPanel />
      <NetworkPanel />
      <TempsPanel />
      <RamPanel />

      <path d="M3,290.3 L5,292.5 L7,290.3" fill="none" stroke={TITLE} strokeWidth={0.9} />
      <text x={11.7} y={291.7} dy="0.35em" fill={TITLE} fontSize={8.4}>Disks</text>

      <DiskPanel
        id="clip-d1" px={5} py={302} pw={241} title="Disk1"
        xr={[39.2, 148.3]} box={[30.5, 195, 319.3, 403.3]} leftX={23.5} rightX={200} labelY={411.7}
        legendX={216} legendY={323.3} rightMax={5} rightTicks={[0, 1, 2, 3, 4, 5]} rightFmt={kFmt1}
        spin={disk1Spin} temp={disk1Temp} reads={disk1Reads} writes={disk1Writes}
      />
      <DragHandle x={3} y={306.5} />
      <GaugePanel px={252} pw={76} title="Disk 1 usage" value={disk1Usage} hist={disk1UsageHistory} />
      <DiskPanel
        id="clip-d2" px={335} py={302} pw={240} title="Disk2"
        xr={[367.3, 480.7]} box={[359, 530, 320, 403.7]} leftX={355.7} rightX={534} labelY={411.7}
        legendX={545.7} legendY={324} rightMax={8} rightTicks={[0, 2, 4, 6, 8]} rightFmt={kFmt0}
        spin={disk2Spin} temp={disk2Temp} reads={disk2Reads} writes={disk2Writes}
      />
      <GaugePanel px={582} pw={74} title="Disk 2 usage" value={disk2Usage} hist={disk2UsageHistory} />
      <DiskPanel
        id="clip-d3" px={662} py={302} pw={240} title="Disk 3"
        xr={[694.3, 806]} box={[685, 852.7, 320, 403.3]} leftX={682.7} rightX={859} labelY={411.7}
        legendX={873.3} legendY={324} rightMax={1250} rightTicks={[0, 250, 500, 750, 1000, 1250]} rightFmt={opsFmt}
        spin={disk3Spin} temp={disk3Temp} reads={disk3Reads} writes={disk3Writes}
      />
      <GaugePanel px={908} pw={78} title="Disk 3 usage" value={disk3Usage} />

      <DiskPanel
        id="clip-par" px={5} py={424} pw={241} title="Parity"
        xr={[39.2, 148.3]} box={[30.5, 195, 443.3, 526.7]} leftX={24.5} rightX={201} labelY={533.3}
        legendX={216.7} legendY={445.7} rightMax={5} rightTicks={[0, 1, 2, 3, 4, 5]} rightFmt={kFmt1}
        spin={paritySpin} temp={parityTemp} reads={parityReads} writes={parityWrites}
      />
      <TablePanel
        px={252} pw={241} title="Disk Temps" range="Last 24 hours" rangeX={447}
        cols={[
          { x0: 253, x1: 310, tx: 260.7, head: "Metric" },
          { x0: 311, x1: 351.7, tx: 316.7, head: "Avg ▾" },
          { x0: 353.7, x1: 394.3, tx: 360, head: "Min" },
          { x0: 395.7, x1: 436.7, tx: 401.7, head: "Max" },
          { x0: 438.7, x1: 491.7, tx: 444.3, head: "Current" },
        ]}
        cells={temps24Cells}
      />
      <TablePanel
        px={498} pw={159} title="Disk Temps" range="Last 30 days" rangeX={614}
        cols={[
          { x0: 499, x1: 548, tx: 506.7, head: "Metric" },
          { x0: 549, x1: 584, tx: 554, head: "Avg ▾" },
          { x0: 585.7, x1: 620, tx: 591, head: "Min" },
          { x0: 621.7, x1: 656, tx: 627.3, head: "Max" },
        ]}
        cells={temps30Cells}
      />
      <TablePanel
        px={662} pw={159} title="HDD Spin up Time" range="Last 24 hours" rangeX={775.5}
        cols={[
          { x0: 662.7, x1: 735, tx: 671, head: "Metric" },
          { x0: 736.7, x1: 820.3, tx: 742.3, head: "Avg ▴" },
        ]}
        cells={spin24Cells}
      />
      <TablePanel
        px={827} pw={159} title="HDD Spin up Time" range="Last 30 days" rangeX={943}
        cols={[
          { x0: 827.7, x1: 903.7, tx: 835, head: "Metric" },
          { x0: 905, x1: 985.3, tx: 911, head: "Avg ▴" },
        ]}
        cells={spin30Cells}
      />

      <rect x={5} y={546} width={981} height={20} fill={PANEL_BG} />
      <path d="M8.5,554.6 L10.6,556.9 L8.5,559.2" fill="none" stroke={TITLE} strokeWidth={0.9} />
      <text x={15} y={557} dy="0.35em" fill={TITLE} fontSize={8.4}>Dockers</text>

      <Scrollbar />
    </svg>
  );
}
